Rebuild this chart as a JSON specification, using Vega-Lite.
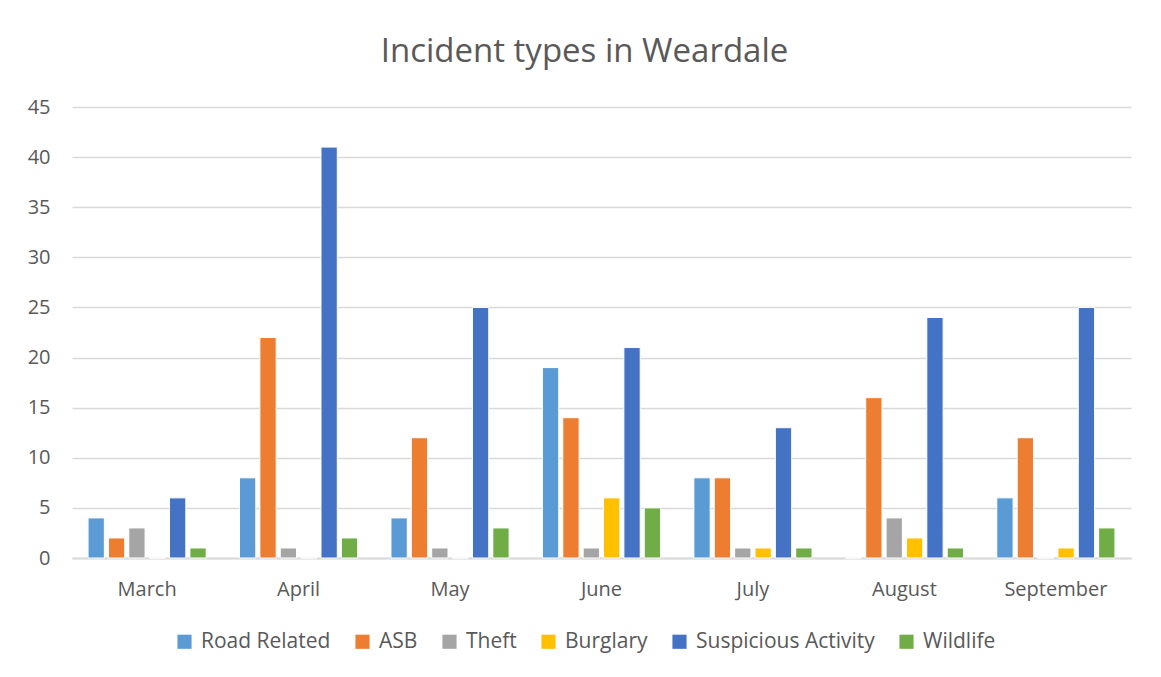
{
  "$schema": "https://vega.github.io/schema/vega-lite/v6.json",
  "width": 1059,
  "height": 451,
  "autosize": {"type": "none"},
  "padding": {"left": 72, "top": 107, "right": 30, "bottom": 119},
  "background": "white",
  "title": {"text": "Incident types in Weardale", "font": "Open Sans", "fontSize": 33, "fontWeight": "normal", "color": "#595959", "offset": 28, "anchor": "middle", "dx": -17},
  "data": {
    "values": [
      {"month": "March", "type": "Road Related", "count": 4},
      {"month": "March", "type": "ASB", "count": 2},
      {"month": "March", "type": "Theft", "count": 3},
      {"month": "March", "type": "Burglary", "count": 0},
      {"month": "March", "type": "Suspicious Activity", "count": 6},
      {"month": "March", "type": "Wildlife", "count": 1},
      {"month": "April", "type": "Road Related", "count": 8},
      {"month": "April", "type": "ASB", "count": 22},
      {"month": "April", "type": "Theft", "count": 1},
      {"month": "April", "type": "Burglary", "count": 0},
      {"month": "April", "type": "Suspicious Activity", "count": 41},
      {"month": "April", "type": "Wildlife", "count": 2},
      {"month": "May", "type": "Road Related", "count": 4},
      {"month": "May", "type": "ASB", "count": 12},
      {"month": "May", "type": "Theft", "count": 1},
      {"month": "May", "type": "Burglary", "count": 0},
      {"month": "May", "type": "Suspicious Activity", "count": 25},
      {"month": "May", "type": "Wildlife", "count": 3},
      {"month": "June", "type": "Road Related", "count": 19},
      {"month": "June", "type": "ASB", "count": 14},
      {"month": "June", "type": "Theft", "count": 1},
      {"month": "June", "type": "Burglary", "count": 6},
      {"month": "June", "type": "Suspicious Activity", "count": 21},
      {"month": "June", "type": "Wildlife", "count": 5},
      {"month": "July", "type": "Road Related", "count": 8},
      {"month": "July", "type": "ASB", "count": 8},
      {"month": "July", "type": "Theft", "count": 1},
      {"month": "July", "type": "Burglary", "count": 1},
      {"month": "July", "type": "Suspicious Activity", "count": 13},
      {"month": "July", "type": "Wildlife", "count": 1},
      {"month": "August", "type": "Road Related", "count": 0},
      {"month": "August", "type": "ASB", "count": 16},
      {"month": "August", "type": "Theft", "count": 4},
      {"month": "August", "type": "Burglary", "count": 2},
      {"month": "August", "type": "Suspicious Activity", "count": 24},
      {"month": "August", "type": "Wildlife", "count": 1},
      {"month": "September", "type": "Road Related", "count": 6},
      {"month": "September", "type": "ASB", "count": 12},
      {"month": "September", "type": "Theft", "count": 0},
      {"month": "September", "type": "Burglary", "count": 1},
      {"month": "September", "type": "Suspicious Activity", "count": 25},
      {"month": "September", "type": "Wildlife", "count": 3}
    ]
  },
  "mark": {"type": "bar", "stroke": "white", "strokeWidth": 1},
  "encoding": {
    "x": {
      "field": "month", "type": "nominal", "title": null,
      "sort": ["March", "April", "May", "June", "July", "August", "September"],
      "scale": {"paddingInner": 0.22, "paddingOuter": 0.106},
      "axis": {"labelAngle": 0, "ticks": false, "domainColor": "#d9d9d9", "domainWidth": 2, "labelPadding": 21}
    },
    "xOffset": {
      "field": "type", "type": "nominal",
      "sort": ["Road Related", "ASB", "Theft", "Burglary", "Suspicious Activity", "Wildlife"],
      "scale": {"paddingInner": 0.2, "paddingOuter": 0}
    },
    "y": {
      "field": "count", "type": "quantitative", "title": null,
      "scale": {"domain": [0, 45], "nice": false},
      "axis": {"values": [0, 5, 10, 15, 20, 25, 30, 35, 40, 45], "domain": false, "ticks": false, "labelPadding": 22, "gridColor": "#d9d9d9", "gridWidth": 1.5}
    },
    "color": {
      "field": "type", "type": "nominal",
      "scale": {
        "domain": ["Road Related", "ASB", "Theft", "Burglary", "Suspicious Activity", "Wildlife"],
        "range": ["#5B9BD5", "#ED7D31", "#A5A5A5", "#FFC000", "#4472C4", "#70AD47"]
      },
      "legend": {
        "title": null, "orient": "none", "direction": "horizontal", "legendX": 102, "legendY": 524,
        "symbolType": "square", "symbolSize": 200, "symbolStrokeWidth": 0, "symbolOpacity": 1,
        "labelOffset": 6, "columnPadding": 21, "labelLimit": 400
      }
    }
  },
  "config": {
    "view": {"stroke": null},
    "axis": {"labelFont": "Open Sans", "labelFontSize": 20, "labelColor": "#595959"},
    "legend": {"labelFont": "Open Sans", "labelFontSize": 21, "labelColor": "#595959"}
  }
}
